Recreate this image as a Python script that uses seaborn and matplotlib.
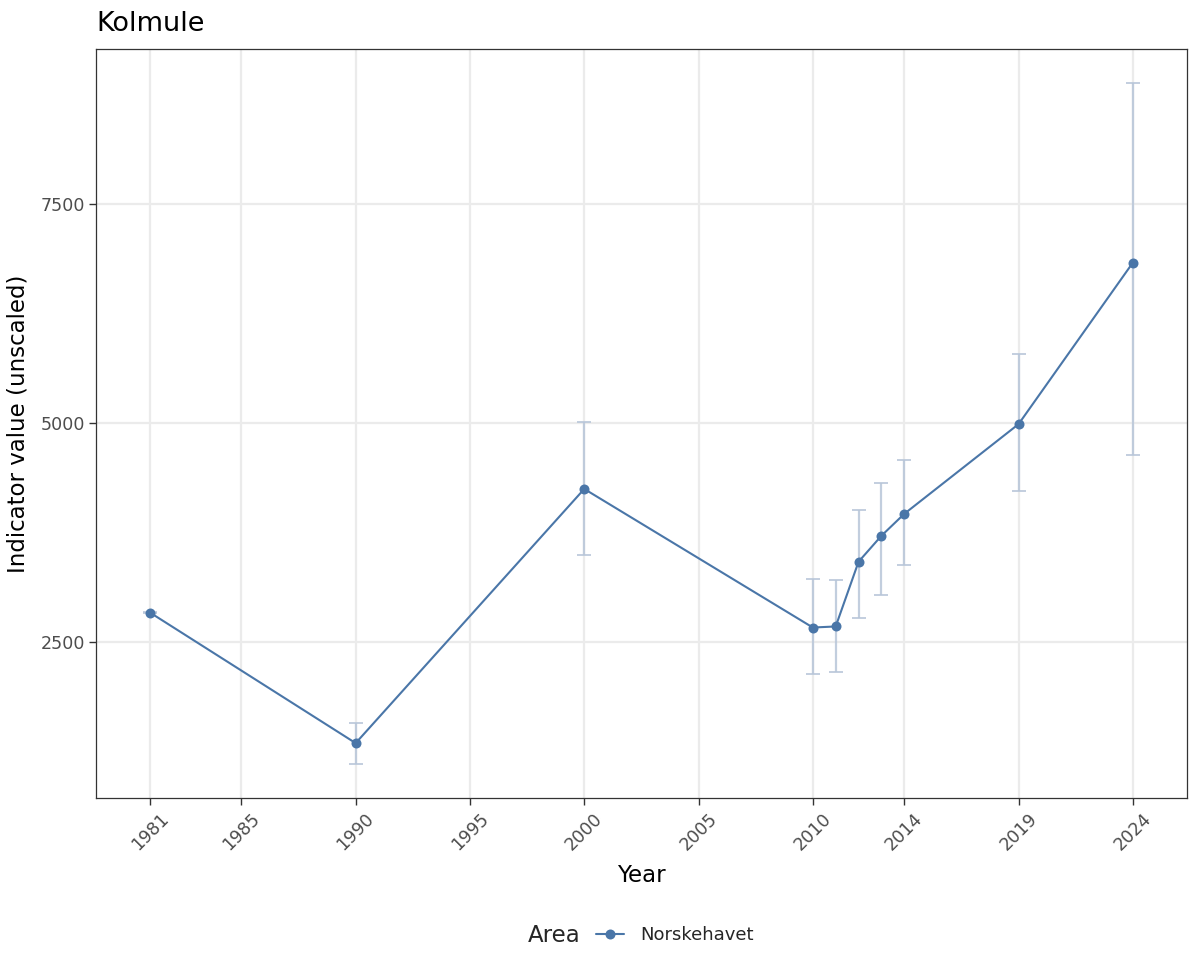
import numpy as np
import pandas as pd
import matplotlib
matplotlib.use("Agg")
import matplotlib.pyplot as plt
from matplotlib.lines import Line2D
import seaborn as sns

# Indicator values
years = [1981, 1990, 2000, 2010, 2011, 2012, 2013, 2014, 2019, 2024]
values = [2841, 1352, 4250, 2670, 2682, 3420, 3716, 3966, 4989, 6830]
lower = [2835, 1114, 3500, 2136, 2159, 2784, 3045, 3386, 4227, 4636]
upper = [2847, 1580, 5011, 3227, 3216, 4011, 4318, 4580, 5784, 8875]
area = "Norskehavet"

xticks = [1981, 1985, 1990, 1995, 2000, 2005, 2010, 2014, 2019, 2024]
yticks = [2500, 5000, 7500]

df = pd.DataFrame({"Year": years, "value": values, "lo": lower, "hi": upper, "Area": area})

sns.set_theme(style="white")
plt.rcParams["font.family"] = ["DejaVu Sans"]

fig = plt.figure(figsize=(12, 9.75), dpi=100)
ax = fig.add_axes([0.08, 0.1815, 0.909, 0.768])

line_col = "#4a76a8"
err_col = "#b8c6d9"

ax.errorbar(df["Year"], df["value"],
            yerr=[df["value"] - df["lo"], df["hi"] - df["value"]],
            fmt="none", ecolor=err_col, elinewidth=1.6, capsize=5, capthick=1.4,
            alpha=0.85, zorder=2)
sns.lineplot(data=df, x="Year", y="value", hue="Area", palette=[line_col],
             marker="o", markersize=7.2, markeredgewidth=0, linewidth=1.5,
             ax=ax, zorder=3, legend=False)

# ggplot-like expansion
ax.set_xlim(min(years) - 2.36, max(years) + 2.36)
ymin, ymax = min(lower), max(upper)
yr = ymax - ymin
ax.set_ylim(ymin - 0.05 * yr, ymax + 0.05 * yr)

ax.set_xticks(xticks)
ax.set_xticklabels([str(t) for t in xticks], rotation=45, ha="center")
ax.set_yticks(yticks)
ax.grid(True, color="#ebebeb", linewidth=1.6, zorder=0)
ax.set_axisbelow(True)
for s in ax.spines.values():
    s.set_color("#333333")
    s.set_linewidth(0.9)
ax.tick_params(axis="both", which="major", length=5, width=1, color="#333333",
               labelsize=12.6, labelcolor="#4d4d4d", bottom=True, left=True, pad=3)

ax.set_xlabel("Year", fontsize=16.5, labelpad=8, color="black")
ax.set_ylabel("Indicator value (unscaled)", fontsize=16.5, labelpad=8, color="black")
ax.set_title("Kolmule", loc="left", fontsize=19.5, pad=13, color="black")

# legend at the bottom: title beside the single entry
handle = Line2D([], [], color=line_col, linewidth=1.5, marker="o",
                markersize=7.2, markeredgewidth=0)
fig.legend([handle], [area], loc="center left", bbox_to_anchor=(0.497, 0.041),
           frameon=False, fontsize=13, handlelength=1.55, handletextpad=0.9,
           borderaxespad=0, borderpad=0)
fig.text(0.440, 0.041, "Area", fontsize=16.5, ha="left", va="center")

fig.savefig("out.png", dpi=100)
